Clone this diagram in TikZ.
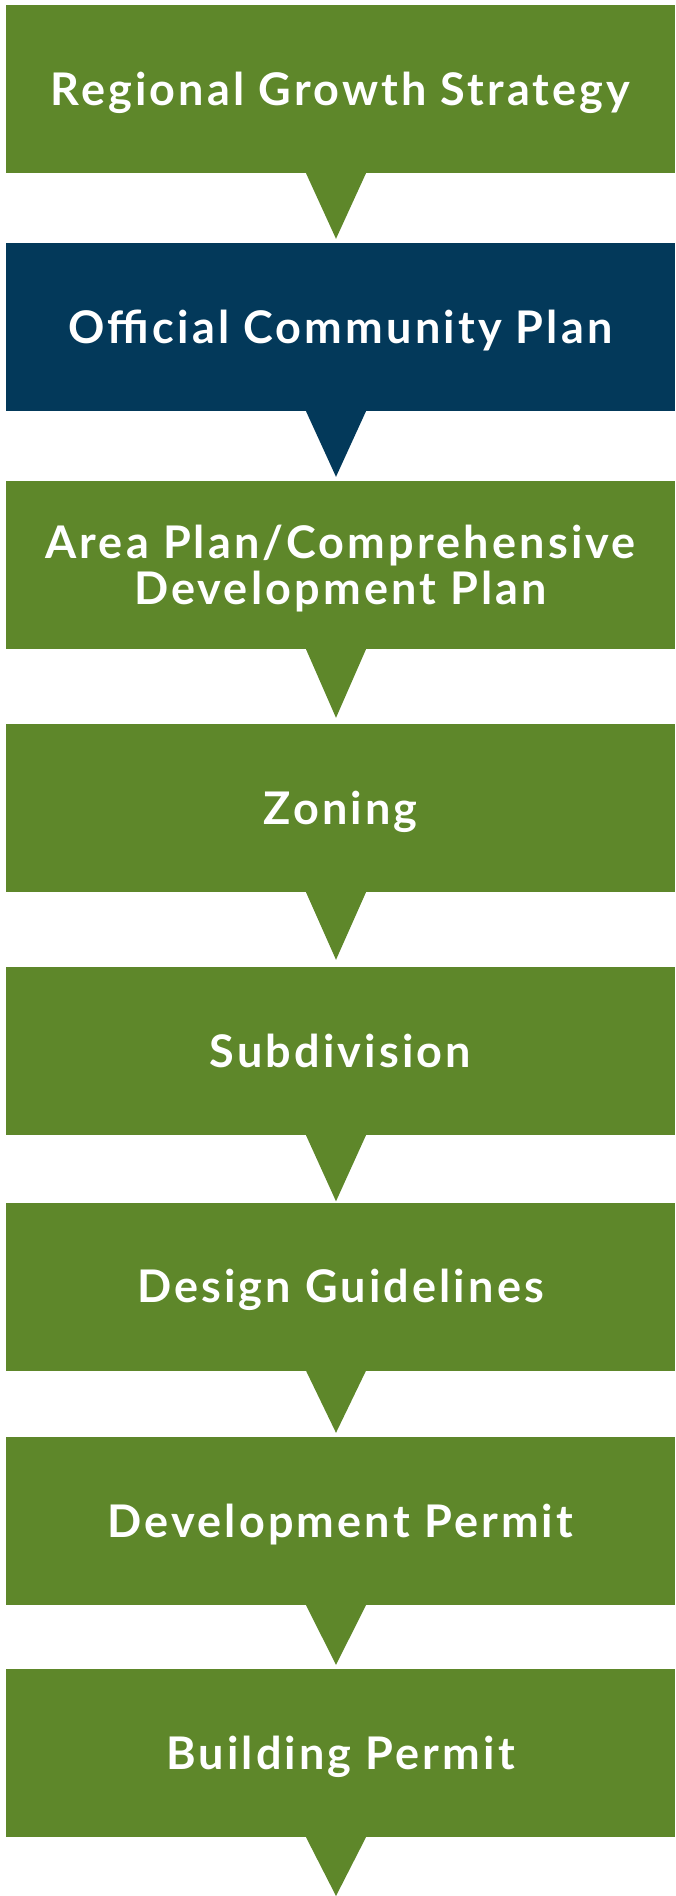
\documentclass[tikz,border=0pt]{standalone}
\usepackage{fontspec}
\setmainfont{Lato}
\newfontfamily\stagefont[LetterSpace=7]{Lato}
\usepackage{tikz}
\usetikzlibrary{calc}
\usepackage{xcolor}
\definecolor{leafgreen}{RGB}{94,135,42}
\definecolor{harbourblue}{RGB}{3,57,90}
\tikzset{%
    stage/.style={%
        fill=#1, text=white, draw=none,
        minimum width=669pt, minimum height=168pt, inner sep=0pt,
        text height=32pt, text depth=0pt,
        align=center, font=\stagefont\bfseries\fontsize{45}{46}\selectfont
    },
    stage/.default=leafgreen
}

\begin{document}
\begin{tikzpicture}[x=1pt,y=-1pt]
    \useasboundingbox (0,0) rectangle (675,1896);

    \node[stage] (rgs) at (340.5,89) {Regional Growth Strategy};
    \node[stage=harbourblue] (ocp) at (340.5,327) {Official Community Plan};
    \node[stage, text height=78pt] (area) at (340.5,565) {Area Plan/Comprehensive\\Development Plan};
    \node[stage] (zon) at (340.5,808) {Zoning};
    \node[stage] (sub) at (340.5,1051) {Subdivision};
    \node[stage] (dg) at (340.5,1286.5) {Design Guidelines};
    \node[stage] (dp) at (340.5,1521) {Development Permit};
    \node[stage] (bp) at (340.5,1753) {Building Permit};
    \coordinate (end) at (336,1896);

    % pointers hanging under each box
    \fill[leafgreen] ($(rgs.south)+(-34.5,0)$) -- ($(rgs.south)+(25.5,0)$) -- ($(ocp.north)+(-4.5,-4)$) -- cycle;
    \fill[harbourblue] ($(ocp.south)+(-34.5,0)$) -- ($(ocp.south)+(25.5,0)$) -- ($(area.north)+(-4.5,-4)$) -- cycle;
    \fill[leafgreen] ($(area.south)+(-34.5,0)$) -- ($(area.south)+(25.5,0)$) -- ($(zon.north)+(-4.5,-6)$) -- cycle;
    \fill[leafgreen] ($(zon.south)+(-34.5,0)$) -- ($(zon.south)+(25.5,0)$) -- ($(sub.north)+(-4.5,-7)$) -- cycle;
    \fill[leafgreen] ($(sub.south)+(-34.5,0)$) -- ($(sub.south)+(25.5,0)$) -- ($(dg.north)+(-4.5,-1)$) -- cycle;
    \fill[leafgreen] ($(dg.south)+(-34.5,0)$) -- ($(dg.south)+(25.5,0)$) -- ($(dp.north)+(-4.5,-4)$) -- cycle;
    \fill[leafgreen] ($(dp.south)+(-34.5,0)$) -- ($(dp.south)+(25.5,0)$) -- ($(bp.north)+(-4.5,-4)$) -- cycle;
    \fill[leafgreen] ($(bp.south)+(-34.5,0)$) -- ($(bp.south)+(25.5,0)$) -- (end) -- cycle;
\end{tikzpicture}
\end{document}
